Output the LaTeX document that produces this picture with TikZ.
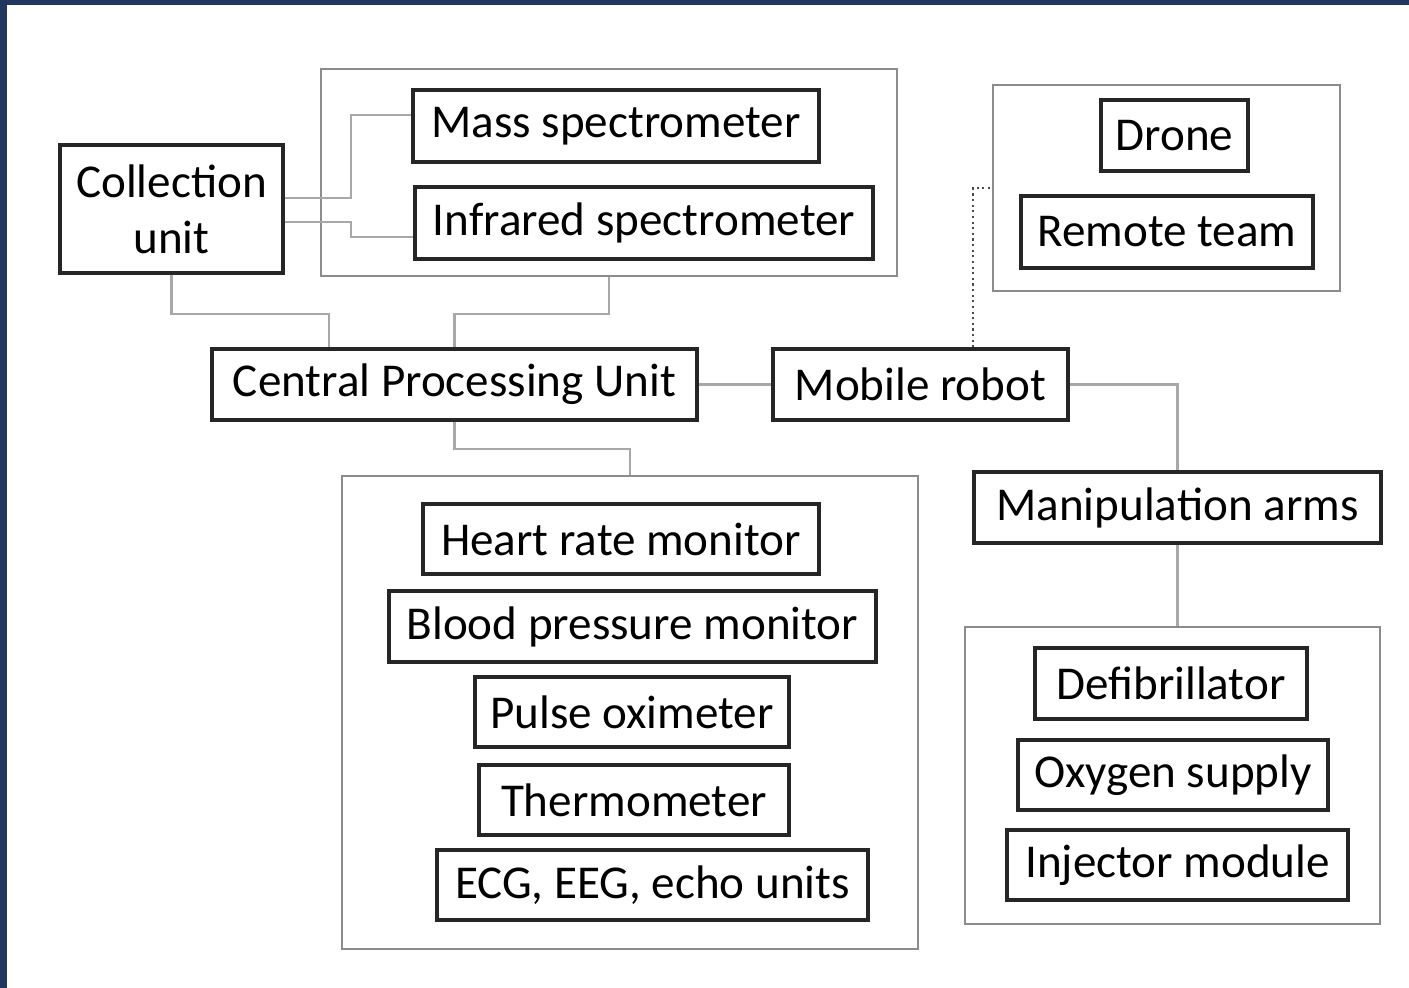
\documentclass[tikz,border=0pt]{standalone}
\usepackage{fontspec}
\setmainfont{Carlito}
\definecolor{navy}{HTML}{22375F}
\definecolor{grpgray}{HTML}{8C8C8C}
\definecolor{wiregray}{HTML}{A8A8A8}
\begin{document}
\begin{tikzpicture}[
  unit/.style={draw=black!85,line width=0.9pt,inner sep=0pt,align=center,
    font=\fontsize{13.4}{16}\selectfont},
  group/.style={draw=grpgray,line width=0.6pt,inner sep=0pt},
  wire/.style={draw=wiregray,line width=0.6pt},
  link/.style={draw=black!70,line width=0.6pt,densely dotted}]
\useasboundingbox[fill=white] (0,0) rectangle (14.09,-9.88);
\fill[navy] (0,0) rectangle (14.09,-0.05);
\fill[navy] (0,0) rectangle (0.07,-9.88);

\node[group,minimum width=5.76cm,minimum height=2.07cm] (sgrp) at (6.09,-1.725) {};
\node[group,minimum width=3.47cm,minimum height=2.06cm] (rgrp) at (11.665,-1.88) {};
\node[group,minimum width=5.76cm,minimum height=4.73cm] (mgrp) at (6.30,-7.125) {};
\node[group,minimum width=4.15cm,minimum height=2.97cm] (tgrp) at (11.725,-7.755) {};

\node[unit,minimum width=2.23cm,minimum height=1.28cm] (coll) at (1.715,-2.09) {Collection\\unit};
\node[unit,minimum width=4.06cm,minimum height=0.72cm] (mass) at (6.16,-1.26) {Mass spectrometer};
\node[unit,minimum width=4.58cm,minimum height=0.72cm] (ir) at (6.44,-2.23) {Infrared spectrometer};
\node[unit,minimum width=4.85cm,minimum height=0.71cm] (cpu) at (4.545,-3.845) {Central Processing Unit};
\node[unit,minimum width=2.95cm,minimum height=0.71cm] (robot) at (9.205,-3.845) {Mobile robot};
\node[unit,minimum width=1.47cm,minimum height=0.71cm] (drone) at (11.745,-1.355) {Drone};
\node[unit,minimum width=2.92cm,minimum height=0.72cm] (team) at (11.67,-2.32) {Remote team};
\node[unit,minimum width=4.07cm,minimum height=0.71cm] (arms) at (11.775,-5.075) {Manipulation arms};

\node[unit,minimum width=3.96cm,minimum height=0.70cm] (heart) at (6.21,-5.39) {Heart rate monitor};
\node[unit,minimum width=4.87cm,minimum height=0.71cm] (bp) at (6.325,-6.265) {Blood pressure monitor};
\node[unit,minimum width=3.14cm,minimum height=0.70cm] (pulse) at (6.32,-7.12) {Pulse oximeter};
\node[unit,minimum width=3.10cm,minimum height=0.70cm] (thermo) at (6.34,-8.00) {Thermometer};
\node[unit,minimum width=4.31cm,minimum height=0.70cm] (ecg) at (6.525,-8.85) {ECG, EEG, echo units};

\node[unit,minimum width=2.72cm,minimum height=0.71cm] (defib) at (11.71,-6.835) {Defibrillator};
\node[unit,minimum width=3.10cm,minimum height=0.70cm] (oxy) at (11.73,-7.75) {Oxygen supply};
\node[unit,minimum width=3.41cm,minimum height=0.70cm] (inj) at (11.775,-8.65) {Injector module};

\draw[wire] ([yshift=0.11cm]coll.east) -- ++(0.66,0) |- ([yshift=0.11cm]mass.west);
\draw[wire] ([yshift=-0.13cm]coll.east) -- ++(0.66,0) |- ([yshift=-0.14cm]ir.west);
\draw[wire] (coll.south) -- ++(0,-0.39) -| ([xshift=-1.255cm]cpu.north);
\draw[wire] (sgrp.south) -- ++(0,-0.37) -| (cpu.north);
\draw[wire] (cpu) edge (robot);
\draw[wire] (cpu.south) -- ++(0,-0.27) -| (mgrp.north);
\draw[link] ([xshift=0.525cm]robot.north) |- (rgrp.west);
\draw[wire] (robot.east) -| (arms.north);
\draw[wire] (arms.south) -- (arms.south |- tgrp.north);
\end{tikzpicture}
\end{document}
